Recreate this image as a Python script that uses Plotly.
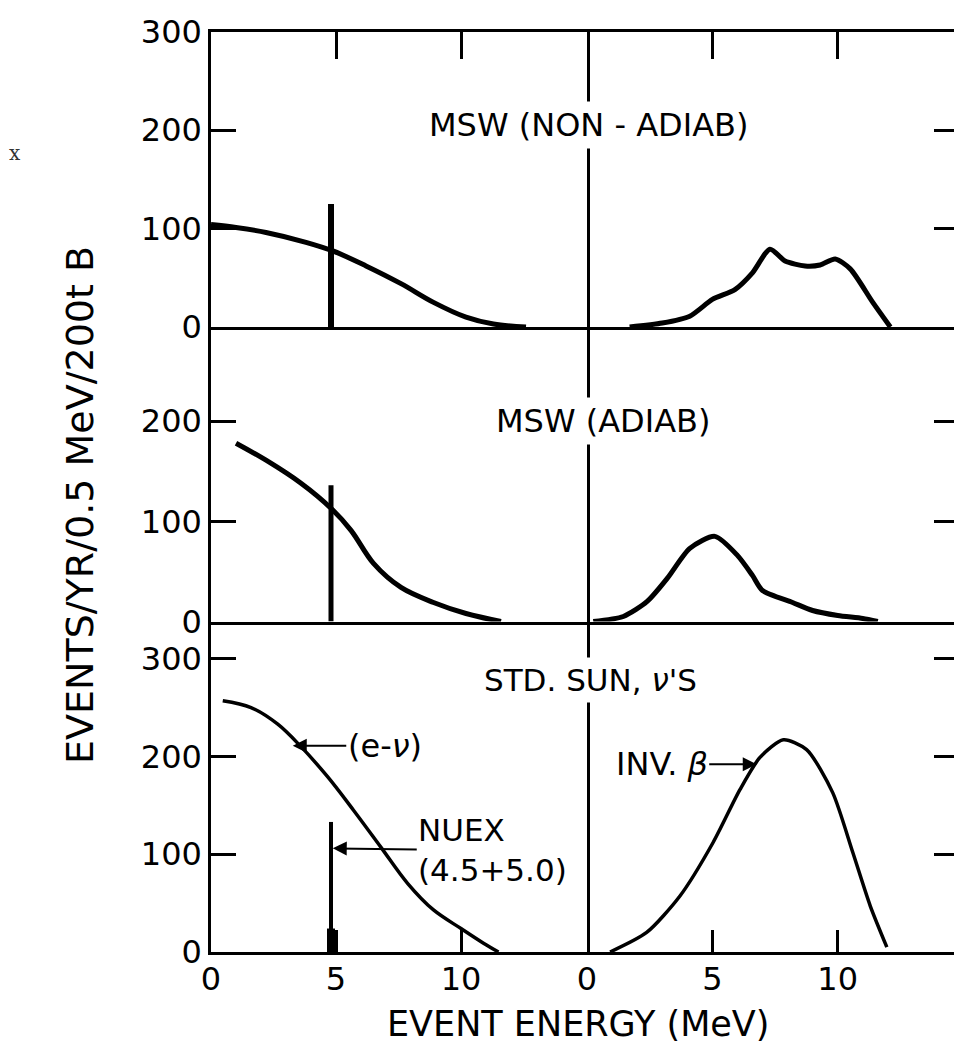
import plotly.graph_objects as go

# ---------------- data ----------------
# Top panel: MSW (NON-ADIAB)
top_left_E = [0.0, 1.0, 2.2, 3.8, 4.9, 6.2, 7.6, 8.9, 10.2, 11.3, 12.6]
top_left_v = [104, 101, 96, 86, 77, 62, 44, 25, 10, 3, 0]
top_right_E = [1.7, 3.0, 4.1, 5.0, 5.9, 6.6, 7.3, 7.9, 8.7, 9.3, 9.9, 10.5, 11.4, 12.1]
top_right_v = [0, 4, 11, 28, 38, 55, 79, 67, 62, 63, 69, 59, 25, 0]

# Middle panel: MSW (ADIAB)
mid_left_E = [1.0, 2.2, 3.6, 4.8, 5.6, 6.5, 7.6, 8.9, 10.2, 11.6]
mid_left_v = [178, 161, 138, 113, 91, 58, 34, 19, 8, 0]
mid_right_E = [0.25, 1.45, 2.4, 3.2, 4.1, 5.1, 6.0, 6.6, 7.0, 8.2, 9.0, 10.0, 11.0, 11.6]
mid_right_v = [0, 5, 20, 43, 73, 85, 66, 46, 31, 19, 11, 6, 3, 0]

# Bottom panel: STD. SUN
bot_left_E = [0.47, 1.6, 2.67, 3.6, 4.67, 5.7, 6.8, 7.87, 8.9, 10.0, 10.9, 11.5]
bot_left_v = [257, 250, 233, 210, 179, 145, 107, 70, 43, 24, 9, 0]
bot_right_E = [0.92, 2.38, 3.7, 5.03, 6.1, 6.9, 7.83, 8.76, 9.8, 10.6, 11.3, 11.96]
bot_right_v = [0, 20, 57, 112, 166, 199, 217, 207, 163, 102, 47, 5]

# NUEX line (4.5+5.0 MeV)
nuex_E = 4.8
nuex_peak = [125, 136, 133]
nuex_foot = 24

panel_labels = ["MSW (NON - ADIAB)", "MSW (ADIAB)", "STD. SUN, <i>ν</i>'S"]
y_ticks_left = [[0, 100, 200, 300], [0, 100, 200], [0, 100, 200, 300]]
y_ticks_right = [[100, 200], [100, 200], [100, 200, 300]]
x_ticks = [0, 5, 10]
x_ticktext = ["0", "5", "10"]
y_ranges = [300, 294, 338]

# ---------------- layout geometry ----------------
W, H = 954, 1048
FONT = "DejaVu Sans"


def fx(p):
    return p / W


def fy(p):
    return 1 - p / H


left_dom = [fx(211), fx(587)]
right_dom = [fx(587), 1.0]
row_px = [(31.5, 327), (327, 621.5), (621.5, 952)]
left_range = [0, (587 - 211) / 25.0]
right_range = [0, (954 - 587) / 25.07]

fig = go.Figure()

curves = [
    (top_left_E, top_left_v, top_right_E, top_right_v, 5),
    (mid_left_E, mid_left_v, mid_right_E, mid_right_v, 5),
    (bot_left_E, bot_left_v, bot_right_E, bot_right_v, 3.5),
]
spike_w = [6, 5, 4]


def ax_name(k, kind):
    return kind if k == 1 else f"{kind}{k}"


for r in range(3):
    kl = 2 * r + 1
    kr = 2 * r + 2
    lE, lv, rE, rv, lw = curves[r]
    fig.add_trace(go.Scatter(x=lE, y=lv, mode="lines",
                             line=dict(color="black", width=lw, shape="spline", smoothing=1.0),
                             xaxis=ax_name(kl, "x"), yaxis=ax_name(kl, "y"), hoverinfo="skip"))
    fig.add_trace(go.Scatter(x=rE, y=rv, mode="lines",
                             line=dict(color="black", width=lw, shape="spline", smoothing=0.7),
                             xaxis=ax_name(kr, "x"), yaxis=ax_name(kr, "y"), hoverinfo="skip"))
    fig.add_trace(go.Scatter(x=[nuex_E, nuex_E], y=[0, nuex_peak[r]], mode="lines",
                             line=dict(color="black", width=spike_w[r]),
                             xaxis=ax_name(kl, "x"), yaxis=ax_name(kl, "y"), hoverinfo="skip"))
    if r == 2:
        fig.add_trace(go.Scatter(x=[nuex_E, nuex_E], y=[0, nuex_foot], mode="lines",
                                 line=dict(color="black", width=8),
                                 xaxis=ax_name(kl, "x"), yaxis=ax_name(kl, "y"), hoverinfo="skip"))

layout = dict(
    width=W, height=H,
    margin=dict(l=0, r=0, t=0, b=0, pad=0, autoexpand=False),
    paper_bgcolor="white", plot_bgcolor="white",
    showlegend=False,
    font=dict(family=FONT, color="black", size=30),
)

LW = 2.5
for r in range(3):
    y0, y1 = row_px[r]
    ydom = [fy(y1), fy(y0)]
    kl = 2 * r + 1
    kr = 2 * r + 2
    for k, dom, rng in ((kl, left_dom, left_range), (kr, right_dom, right_range)):
        xa = dict(domain=dom, range=rng, anchor=ax_name(k, "y"), showgrid=False, zeroline=False,
                  showline=True, linecolor="black", linewidth=LW, fixedrange=True,
                  automargin=False)
        if r == 0:
            xa.update(side="top", mirror=True, ticks="inside", tickvals=[5, 10], ticklen=28,
                      tickwidth=LW, tickcolor="black", showticklabels=False)
        elif r == 1:
            xa.update(ticks="", showticklabels=False)
        else:
            xa.update(ticks="inside", tickvals=x_ticks, ticktext=x_ticktext, ticklen=22,
                      tickwidth=LW, tickcolor="black", showticklabels=True,
                      tickfont=dict(family=FONT, size=32, color="black"), ticklabelstandoff=-3)
        layout[ax_name(k, "xaxis")] = xa
    layout[ax_name(kl, "yaxis")] = dict(
        domain=ydom, range=[0, y_ranges[r]], anchor=ax_name(kl, "x"), showgrid=False, zeroline=False,
        showline=True, mirror=True, linecolor="black", linewidth=LW, ticks="inside",
        tickvals=y_ticks_left[r], ticktext=[str(v) for v in y_ticks_left[r]], ticklen=25,
        tickwidth=LW, tickcolor="black", tickfont=dict(family=FONT, size=32, color="black"),
        ticklabelstandoff=0, fixedrange=True, automargin=False)
    layout[ax_name(kr, "yaxis")] = dict(
        domain=ydom, range=[0, y_ranges[r]], anchor=ax_name(kr, "x"), side="right",
        showgrid=False, zeroline=False, showline=False, ticks="inside",
        tickvals=y_ticks_right[r], ticklen=20, tickwidth=LW, tickcolor="black",
        showticklabels=False, fixedrange=True, automargin=False)

fig.update_layout(**layout)

C = dict(xanchor="center", yanchor="middle")
annotations = [
    dict(text="x", x=fx(15), y=fy(153), xref="paper", yref="paper", showarrow=False,
         font=dict(family="DejaVu Serif", size=20, color="#333"), **C),
    dict(text="EVENTS/YR/0.5 MeV/200t B", x=fx(80), y=fy(505), xref="paper", yref="paper",
         textangle=-90, showarrow=False, font=dict(family=FONT, size=38, color="black"), **C),
    dict(text="EVENT ENERGY (MeV)", x=fx(578), y=fy(1024), xref="paper", yref="paper",
         showarrow=False, borderpad=0, font=dict(family=FONT, size=35, color="black"), **C),
    dict(text=panel_labels[0], x=fx(588), y=fy(125), xref="paper", yref="paper", showarrow=False,
         bgcolor="white", borderpad=4, font=dict(family=FONT, size=32, color="black"), **C),
    dict(text=panel_labels[1], x=fx(603), y=fy(421), xref="paper", yref="paper", showarrow=False,
         bgcolor="white", borderpad=4, font=dict(family=FONT, size=32, color="black"), **C),
    dict(text=panel_labels[2], x=fx(590), y=fy(680), xref="paper", yref="paper", showarrow=False,
         bgcolor="white", borderpad=4, font=dict(family=FONT, size=31, color="black"), **C),
    dict(text="(e-<i>ν</i>)", x=3.27, y=211, xref="x5", yref="y5", ax=92, ay=0,
         showarrow=True, arrowhead=2, arrowsize=1.4, arrowwidth=2, arrowcolor="black",
         font=dict(family=FONT, size=32, color="black")),
    dict(text="NUEX<br>(4.5+5.0)", x=4.87, y=106, xref="x5", yref="y5", ax=160, ay=2,
         align="left", showarrow=True, arrowhead=2, arrowsize=1.4, arrowwidth=2,
         arrowcolor="black", font=dict(family=FONT, size=31, color="black")),
    dict(text="INV. <i>β</i>", x=6.77, y=192, xref="x6", yref="y6", ax=-95, ay=0,
         showarrow=True, arrowhead=2, arrowsize=1.4, arrowwidth=2, arrowcolor="black",
         font=dict(family=FONT, size=32, color="black")),
]
fig.update_layout(annotations=annotations)

fig.write_html("out.html")
